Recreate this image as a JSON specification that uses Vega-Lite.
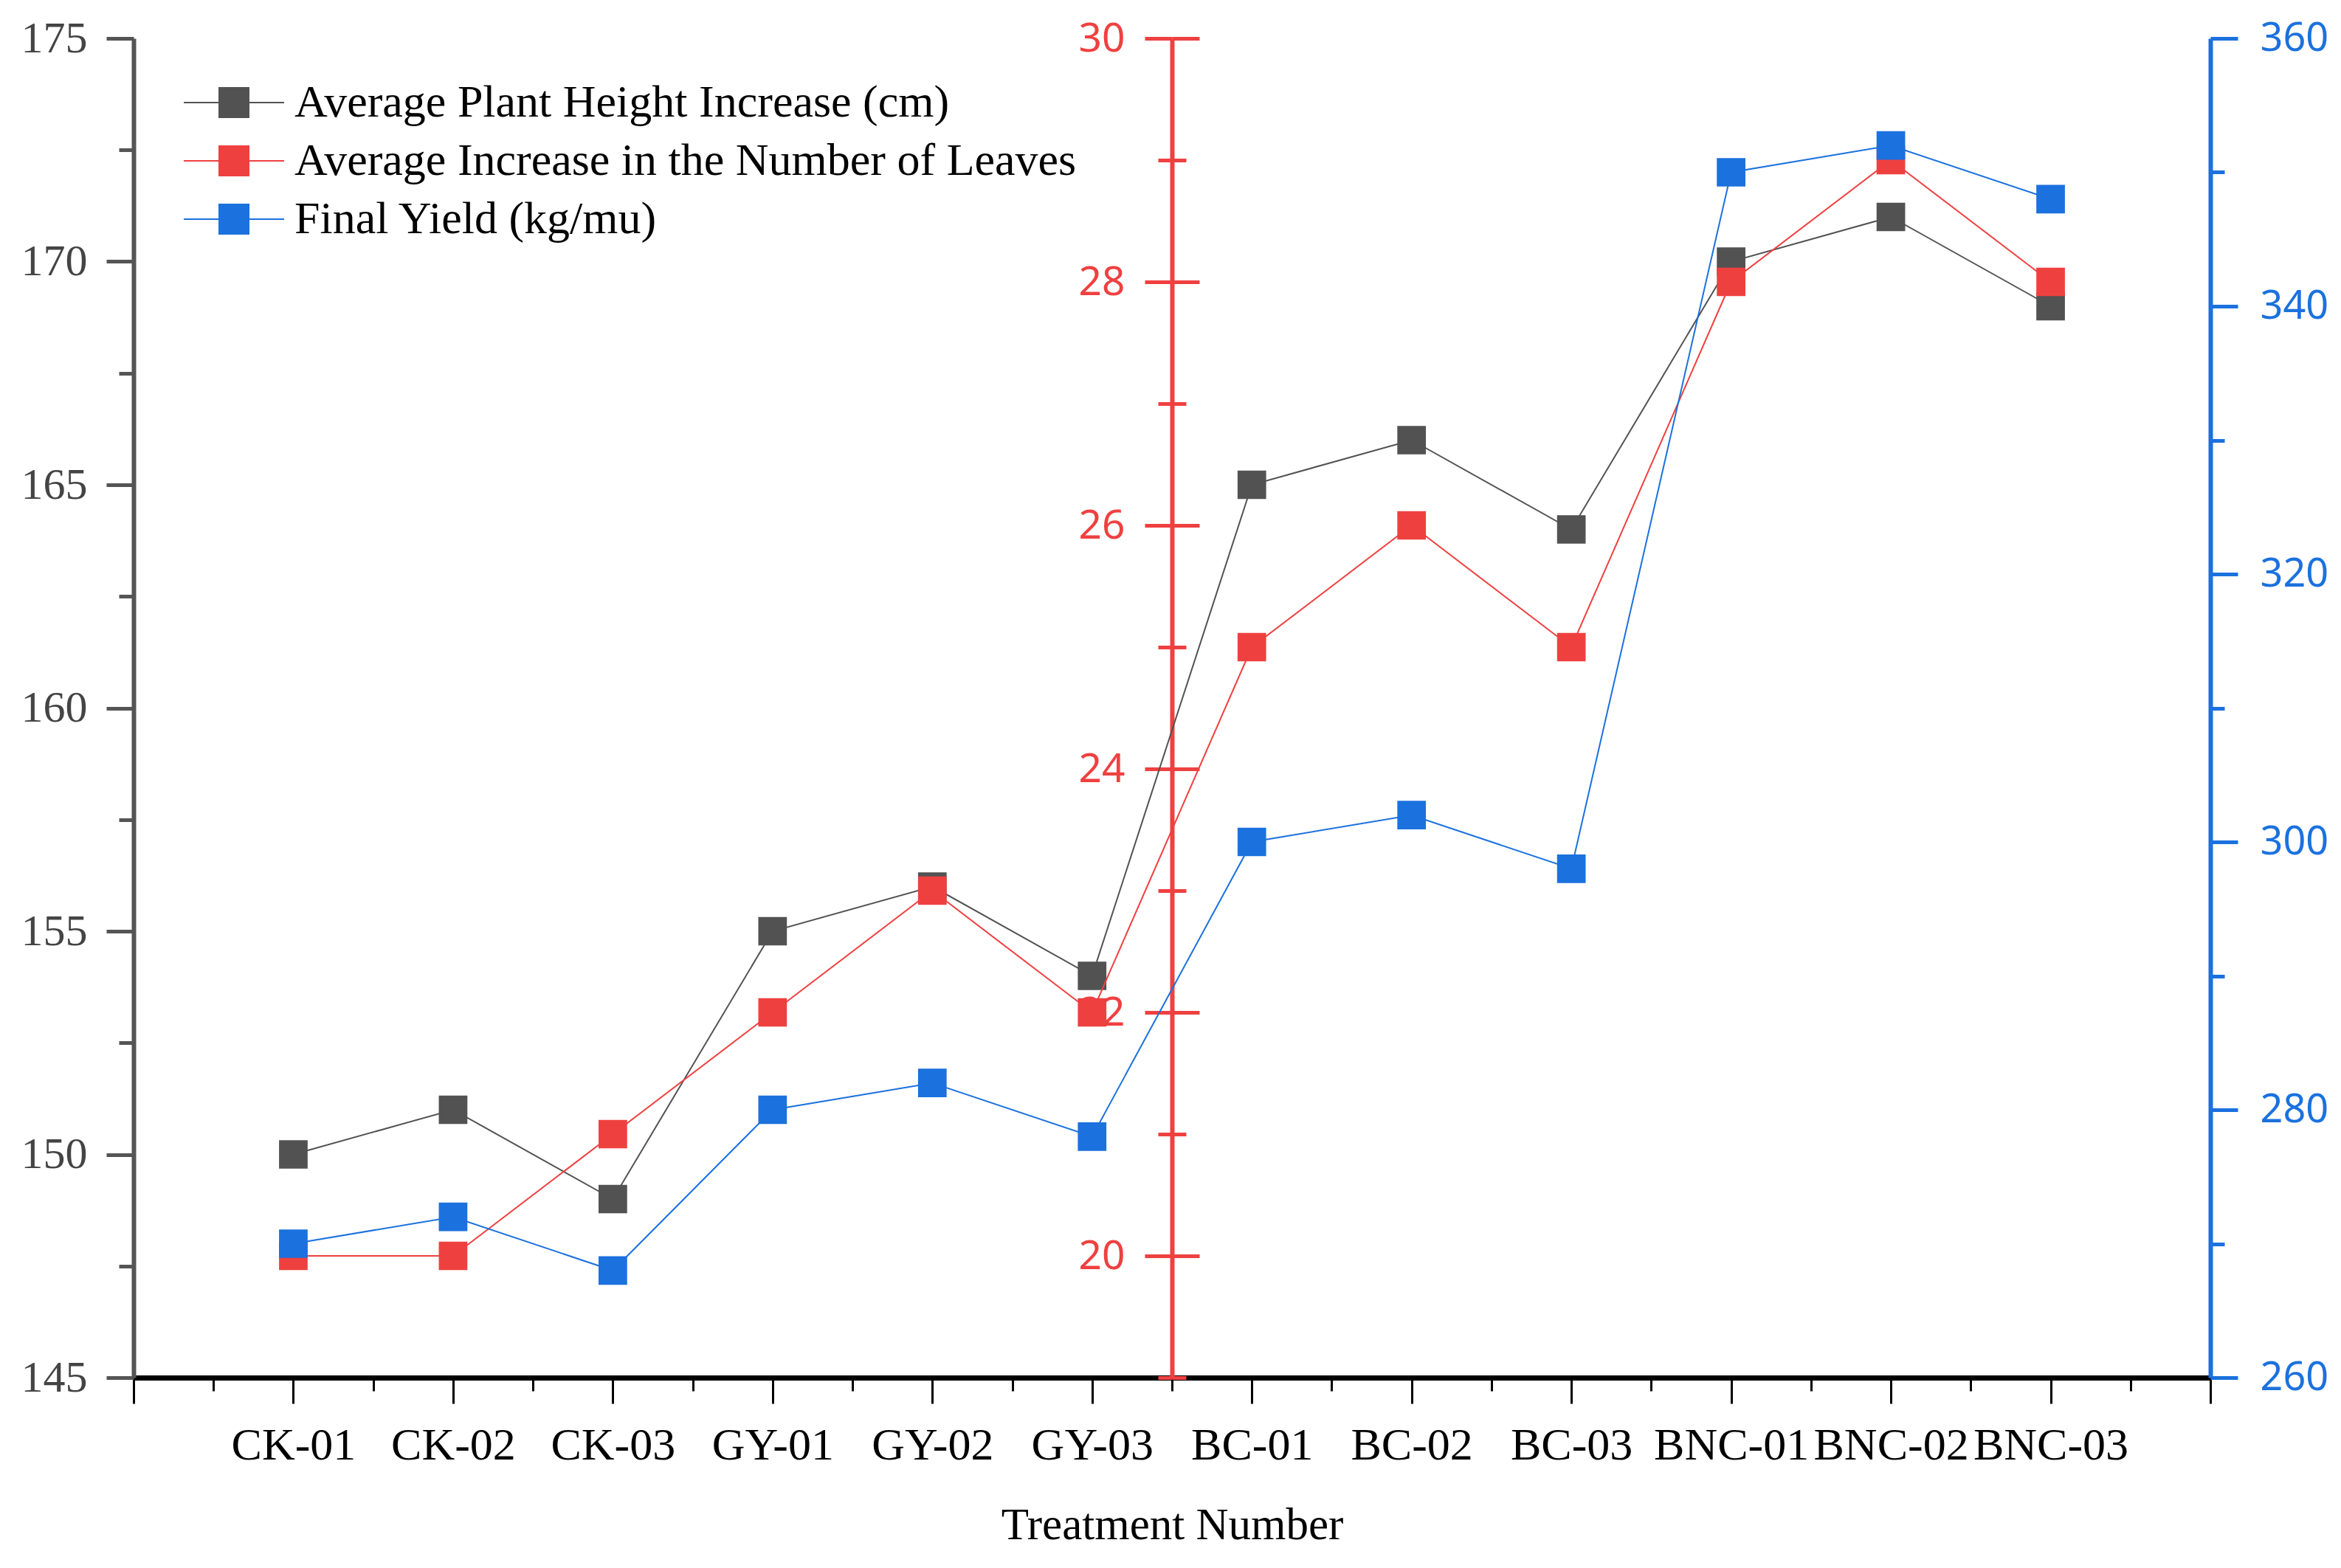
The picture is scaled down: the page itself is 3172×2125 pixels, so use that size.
{
  "$schema": "https://vega.github.io/schema/vega-lite/v6.json",
  "width": 2814,
  "height": 1815,
  "autosize": "none",
  "padding": {"left": 181, "top": 52, "right": 177, "bottom": 258},
  "background": "white",
  "data": {
    "values": [
      {"treatment": "CK-01", "idx": 1, "height": 150, "leaves": 20, "yield": 270},
      {"treatment": "CK-02", "idx": 2, "height": 151, "leaves": 20, "yield": 272},
      {"treatment": "CK-03", "idx": 3, "height": 149, "leaves": 21, "yield": 268},
      {"treatment": "GY-01", "idx": 4, "height": 155, "leaves": 22, "yield": 280},
      {"treatment": "GY-02", "idx": 5, "height": 156, "leaves": 23, "yield": 282},
      {"treatment": "GY-03", "idx": 6, "height": 154, "leaves": 22, "yield": 278},
      {"treatment": "BC-01", "idx": 7, "height": 165, "leaves": 25, "yield": 300},
      {"treatment": "BC-02", "idx": 8, "height": 166, "leaves": 26, "yield": 302},
      {"treatment": "BC-03", "idx": 9, "height": 164, "leaves": 25, "yield": 298},
      {"treatment": "BNC-01", "idx": 10, "height": 170, "leaves": 28, "yield": 350},
      {"treatment": "BNC-02", "idx": 11, "height": 171, "leaves": 29, "yield": 352},
      {"treatment": "BNC-03", "idx": 12, "height": 169, "leaves": 28, "yield": 348}
    ]
  },
  "encoding": {
    "x": {
      "field": "idx",
      "type": "quantitative",
      "scale": {"domain": [0, 13], "nice": false, "zero": false},
      "axis": {
        "title": "Treatment Number",
        "titleFont": "Liberation Serif",
        "titleFontSize": 61,
        "titleFontWeight": "normal",
        "titleColor": "black",
        "titlePadding": 48,
        "values": [0, 0.5, 1, 1.5, 2, 2.5, 3, 3.5, 4, 4.5, 5, 5.5, 6, 6.5, 7, 7.5, 8, 8.5, 9, 9.5, 10, 10.5, 11, 11.5, 12, 12.5, 13],
        "labelExpr": "datum.value % 1 === 0 && datum.value >= 1 && datum.value <= 12 ? ['CK-01','CK-02','CK-03','GY-01','GY-02','GY-03','BC-01','BC-02','BC-03','BNC-01','BNC-02','BNC-03'][datum.value - 1] : ''",
        "labelFont": "Liberation Serif",
        "labelFontSize": 62,
        "labelColor": "black",
        "labelPadding": 26,
        "labelLimit": 600,
        "labelFlush": false,
        "labelOverlap": false,
        "grid": false,
        "domainColor": "black",
        "domainWidth": 7,
        "tickColor": "black",
        "tickWidth": 3,
        "tickSize": {"condition": {"test": "datum.value % 1 === 0", "value": 35}, "value": 18}
      }
    }
  },
  "layer": [
    {
      "mark": {"type": "line", "strokeWidth": 2, "point": {"shape": "square", "size": 1500, "filled": true, "opacity": 1}},
      "encoding": {
        "y": {
          "field": "height",
          "type": "quantitative",
          "scale": {"domain": [145, 175], "nice": false, "zero": false},
          "axis": {
            "orient": "left",
            "title": null,
            "values": [145, 147.5, 150, 152.5, 155, 157.5, 160, 162.5, 165, 167.5, 170, 172.5, 175],
            "labelExpr": "datum.value % 5 === 0 ? datum.label : ''",
            "labelFont": "Liberation Serif",
            "labelFontSize": 60,
            "labelColor": "#444444",
            "labelPadding": 26,
            "labelFlush": false,
            "labelOverlap": false,
            "grid": false,
            "domainColor": "#555555",
            "domainWidth": 6,
            "tickColor": "#555555",
            "tickWidth": 5,
            "tickSize": {"condition": {"test": "datum.value % 5 === 0", "value": 37}, "value": 20}
          }
        },
        "color": {
          "datum": "Average Plant Height Increase (cm)",
          "type": "nominal",
          "scale": {
            "domain": ["Average Plant Height Increase (cm)", "Average Increase in the Number of Leaves", "Final Yield (kg/mu)"],
            "range": ["#525252", "#ef4040", "#1b71de"]
          },
          "legend": {
            "title": null,
            "orient": "none",
            "legendX": 105,
            "legendY": 56,
            "padding": 0,
            "symbolType": "M-3.4,0H3.4M-1,-1H1V1H-1Z",
            "symbolSize": 1600,
            "symbolStrokeWidth": 2,
            "labelFont": "Liberation Serif",
            "labelFontSize": 62,
            "labelColor": "black",
            "labelLimit": 1500,
            "labelOffset": 51,
            "rowPadding": 17,
            "encode": {
              "symbols": {
                "update": {
                  "fill": {"scale": "color", "field": "value"},
                  "stroke": {"scale": "color", "field": "value"},
                  "opacity": {"value": 1}
                }
              }
            }
          }
        }
      }
    },
    {
      "mark": {"type": "line", "strokeWidth": 2, "point": {"shape": "square", "size": 1500, "filled": true, "opacity": 1}},
      "encoding": {
        "y": {
          "field": "leaves",
          "type": "quantitative",
          "scale": {"domain": [19, 30], "nice": false, "zero": false},
          "axis": {
            "orient": "left",
            "offset": -1407,
            "title": null,
            "values": [19, 20, 21, 22, 23, 24, 25, 26, 27, 28, 29, 30],
            "labelExpr": "datum.value % 2 === 0 ? datum.label : ''",
            "labelFont": "Noto Sans",
            "labelFontSize": 55,
            "labelColor": "#ef4040",
            "labelPadding": 27,
            "labelFlush": false,
            "labelOverlap": false,
            "grid": false,
            "domainColor": "#ef4040",
            "domainWidth": 6,
            "tickColor": "#ef4040",
            "tickWidth": 5,
            "tickSize": {"condition": {"test": "datum.value % 2 === 0", "value": 37}, "value": 19}
          }
        },
        "color": {"datum": "Average Increase in the Number of Leaves", "type": "nominal"}
      }
    },
    {
      "mark": {"type": "point", "opacity": 0},
      "encoding": {
        "y": {
          "field": "leaves",
          "type": "quantitative",
          "scale": {"domain": [19, 30], "nice": false, "zero": false},
          "axis": {
            "orient": "right",
            "offset": -1407,
            "title": null,
            "values": [19, 20, 21, 22, 23, 24, 25, 26, 27, 28, 29, 30],
            "labels": false,
            "domain": false,
            "grid": false,
            "tickColor": "#ef4040",
            "tickWidth": 5,
            "tickSize": {"condition": {"test": "datum.value % 2 === 0", "value": 37}, "value": 19}
          }
        }
      }
    },
    {
      "mark": {"type": "line", "strokeWidth": 2, "point": {"shape": "square", "size": 1500, "filled": true, "opacity": 1}},
      "encoding": {
        "y": {
          "field": "yield",
          "type": "quantitative",
          "scale": {"domain": [260, 360], "nice": false, "zero": false},
          "axis": {
            "orient": "right",
            "title": null,
            "values": [260, 270, 280, 290, 300, 310, 320, 330, 340, 350, 360],
            "labelExpr": "datum.value % 20 === 0 ? datum.label : ''",
            "labelFont": "Noto Sans",
            "labelFontSize": 54,
            "labelColor": "#1b71de",
            "labelPadding": 30,
            "labelFlush": false,
            "labelOverlap": false,
            "grid": false,
            "domainColor": "#1b71de",
            "domainWidth": 6,
            "tickColor": "#1b71de",
            "tickWidth": 5,
            "tickSize": {"condition": {"test": "datum.value % 20 === 0", "value": 37}, "value": 19}
          }
        },
        "color": {"datum": "Final Yield (kg/mu)", "type": "nominal"}
      }
    }
  ],
  "resolve": {"scale": {"y": "independent"}},
  "config": {
    "view": {"stroke": null},
    "font": "Liberation Serif"
  }
}
